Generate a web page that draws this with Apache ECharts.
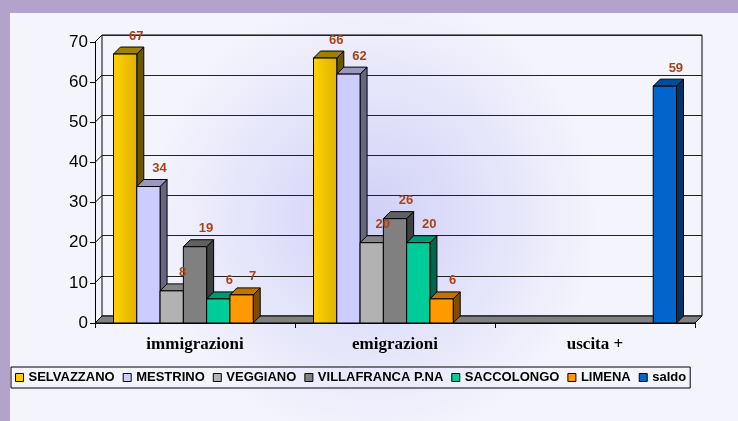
<!DOCTYPE html>
<html>
<head>
<meta charset="utf-8">
<script src="https://cdn.jsdelivr.net/npm/echarts@6/dist/echarts.min.js"></script>
<style>
  html, body { margin: 0; padding: 0; background: #b3a3cc; }
  #chart { width: 738px; height: 421px; }
</style>
</head>
<body>
<div id="chart"></div>
<script>
// dati
const categories = ['immigrazioni', 'emigrazioni', 'uscita +'];
const seriesNames = ['SELVAZZANO', 'MESTRINO', 'VEGGIANO', 'VILLAFRANCA P.NA', 'SACCOLONGO', 'LIMENA', 'saldo'];
const selvazzano = [67, 66, null];
const mestrino = [34, 62, null];
const veggiano = [8, 20, null];
const villafranca = [19, 26, null];
const saccolongo = [6, 20, null];
const limena = [7, 6, null];
const saldo = [null, null, 59];
const yTicks = [0, 10, 20, 30, 40, 50, 60, 70];

const values = [selvazzano, mestrino, veggiano, villafranca, saccolongo, limena, saldo];

// colori: fronte, lato, sopra
const palette = [
  ['#ffcc00', '#6b5600', '#a08000'],
  ['#ccccff', '#666680', '#9999bf'],
  ['#b2b2b2', '#595959', '#858585'],
  ['#808080', '#404040', '#606060'],
  ['#00cc99', '#00664d', '#009973'],
  ['#ff9900', '#804d00', '#bf7300'],
  ['#0066cc', '#003366', '#004d99']
];

const DX = 7, DY = 7;
const CAT_GAP = 0.185;
const Y_MAX = yTicks[yTicks.length - 1];

const chart = echarts.init(document.getElementById('chart'));

function barRender(k) {
  return function (params, api) {
    const ci = api.value(0);
    const v = api.value(1);
    const band = api.size([1, 0])[0];
    const base = api.coord([ci, 0]);
    const top = api.coord([ci, v]);
    const w = band * (1 - CAT_GAP) / 7;
    const x0 = base[0] - band / 2 + band * CAT_GAP / 2 + k * w;
    const x1 = x0 + w;
    const c = palette[k];
    const front = k === 0
      ? new echarts.graphic.LinearGradient(0, 0, 1, 0, [
          { offset: 0, color: '#ffd400' }, { offset: 1, color: '#e0b000' }])
      : c[0];
    const ln = { stroke: '#000', lineWidth: 1 };
    return {
      type: 'group',
      children: [
        { type: 'polygon', shape: { points: [[x1, top[1]], [x1 + DX, top[1] - DY], [x1 + DX, base[1] - DY], [x1, base[1]]] },
          style: Object.assign({ fill: c[1] }, ln) },
        { type: 'polygon', shape: { points: [[x0, top[1]], [x0 + DX, top[1] - DY], [x1 + DX, top[1] - DY], [x1, top[1]]] },
          style: Object.assign({ fill: c[2] }, ln) },
        { type: 'rect', shape: { x: x0, y: top[1], width: w, height: base[1] - top[1] },
          style: Object.assign({ fill: front }, ln) },
        { type: 'text', z2: 100, style: {
            x: x0 + w / 2 + 11, y: top[1] - 18, text: String(v),
            fill: '#a5441a', font: 'bold 13px Arial, "Liberation Sans", sans-serif',
            align: 'center', verticalAlign: 'middle' } }
      ]
    };
  };
}

function frameRender(params, api) {
  const t = api.value(1);
  const band = api.size([1, 0])[0];
  const p = api.coord([0, t]);
  const xl = p[0] - band / 2;
  const children = [
    { type: 'line', shape: { x1: xl, y1: p[1], x2: xl + DX, y2: p[1] - DY }, style: { stroke: '#000', lineWidth: 1 } }
  ];
  if (t === 0) {
    const xr = api.coord([categories.length - 1, 0])[0] + band / 2;
    children.unshift({
      type: 'polygon',
      shape: { points: [[xl, p[1]], [xr, p[1]], [xr + DX, p[1] - DY], [xl + DX, p[1] - DY]] },
      style: { fill: '#808080', stroke: '#000', lineWidth: 1 }
    });
  }
  return { type: 'group', children: children };
}

const series = [{
  name: 'frame',
  type: 'custom',
  xAxisIndex: 0, yAxisIndex: 0,
  z: 1,
  silent: true,
  renderItem: frameRender,
  data: yTicks.map(t => [0, t])
}];

values.forEach((vals, k) => {
  series.push({
    name: seriesNames[k],
    type: 'custom',
    xAxisIndex: 0, yAxisIndex: 0,
    z: 2,
    itemStyle: { color: palette[k][0] },
    renderItem: barRender(k),
    data: vals.map((v, i) => [i, v]).filter(d => d[1] != null)
  });
});

const option = {
  animation: false,
  graphic: [
    { type: 'rect', z: -10, shape: { x: 0, y: 0, width: 738, height: 421 }, style: { fill: '#b3a3cc' } },
    { type: 'rect', z: -10, shape: { x: 10, y: 13, width: 728, height: 408 },
      style: { fill: new echarts.graphic.RadialGradient(0.5, 0.5, 0.55, [
        { offset: 0, color: '#d0d0f7' }, { offset: 1, color: '#f4f4fd' }]) } }
  ],
  legend: {
    data: seriesNames,
    left: 11, top: 367,
    icon: 'rect',
    itemWidth: 8, itemHeight: 8, itemGap: 8,
    padding: [4, 4, 4, 4],
    borderColor: '#000', borderWidth: 1,
    itemStyle: { borderColor: '#000', borderWidth: 1 },
    textStyle: { fontFamily: 'Arial, "Liberation Sans", sans-serif', fontWeight: 'bold', fontSize: 13, color: '#000' }
  },
  grid: [
    { left: 95, top: 42, width: 600, height: 281 },
    { left: 102, top: 35, width: 600, height: 281, show: true, borderColor: '#000', borderWidth: 1, backgroundColor: 'transparent' }
  ],
  xAxis: [
    {
      type: 'category', gridIndex: 0, data: categories,
      axisLine: { show: true, lineStyle: { color: '#000' } },
      axisTick: { show: true, length: 5, lineStyle: { color: '#000' } },
      axisLabel: { margin: 13, fontFamily: '"Liberation Serif", "Times New Roman", serif', fontWeight: 'bold', fontSize: 17, color: '#000' }
    },
    { type: 'category', gridIndex: 1, data: categories, show: false }
  ],
  yAxis: [
    {
      type: 'value', gridIndex: 0, min: 0, max: Y_MAX, interval: 10,
      axisLine: { show: true, lineStyle: { color: '#000' } },
      axisTick: { show: true, length: 5, lineStyle: { color: '#000' } },
      axisLabel: { margin: 7, fontFamily: 'Arial, "Liberation Sans", sans-serif', fontSize: 17, color: '#000' },
      splitLine: { show: false }
    },
    {
      type: 'value', gridIndex: 1, min: 0, max: Y_MAX, interval: 10,
      axisLine: { show: false }, axisTick: { show: false }, axisLabel: { show: false },
      splitLine: { show: true, lineStyle: { color: '#222', width: 1 } }
    }
  ],
  series: series
};

chart.setOption(option);
</script>
</body>
</html>
